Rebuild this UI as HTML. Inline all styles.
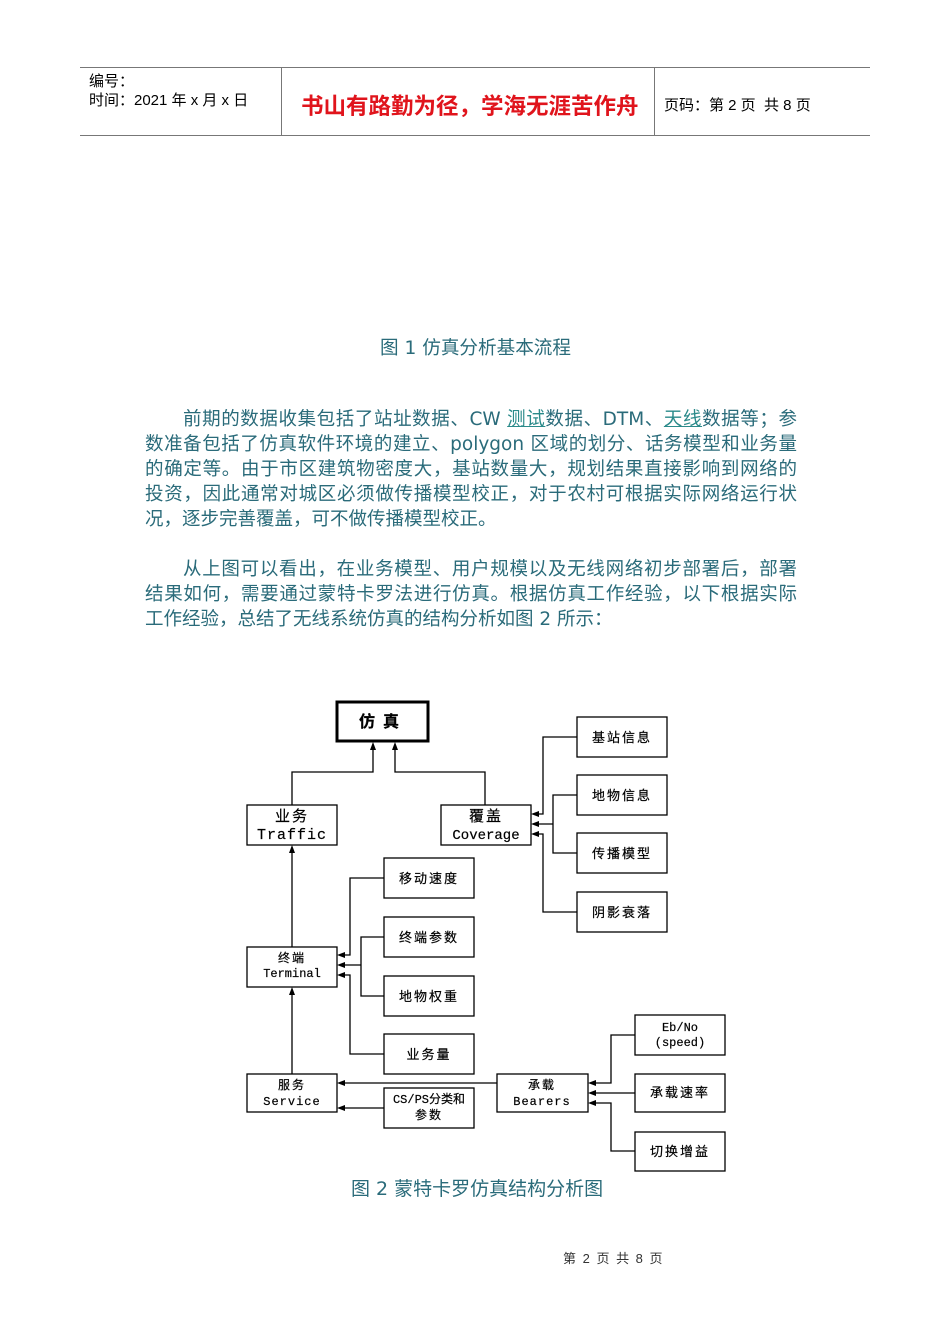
<!DOCTYPE html>
<html><head><meta charset="utf-8">
<style>
html,body{margin:0;padding:0;background:#fff;}
body{width:950px;height:1344px;position:relative;overflow:hidden;font-family:"DejaVu Sans","Noto Sans CJK SC",sans-serif;}
.a{position:absolute;white-space:nowrap;}
.p{position:absolute;left:145px;width:652px;font-size:18.5px;color:#2a6b7a;line-height:25px;text-align:justify;text-align-last:justify;white-space:nowrap;font-family:"DejaVu Sans","Noto Sans CJK SC",sans-serif;}
.u{text-decoration:underline;color:#2a8a8a;}
svg text{font-family:"Liberation Mono","Noto Sans CJK SC",monospace;}
</style></head><body>
<!-- header -->
<div class="a" style="left:80px;top:67px;width:790px;height:1px;background:#777"></div>
<div class="a" style="left:80px;top:135px;width:790px;height:1px;background:#777"></div>
<div class="a" style="left:281px;top:68px;width:1px;height:67px;background:#777"></div>
<div class="a" style="left:654px;top:68px;width:1px;height:67px;background:#777"></div>
<div class="a" style="left:89px;top:70px;font-size:15px;font-family:'Liberation Sans','Noto Sans CJK SC',sans-serif;">编号：</div>
<div class="a" style="left:89px;top:89px;font-size:15px;font-family:'Liberation Sans','Noto Sans CJK SC',sans-serif;">时间：2021 年 x 月 x 日</div>
<div class="a" style="left:301px;top:89px;font-size:22.5px;font-weight:bold;color:#e0141c;font-family:'Liberation Sans','Noto Sans CJK SC',sans-serif;">书山有路勤为径，学海无涯苦作舟</div>
<div class="a" style="left:664px;top:94px;font-size:15px;font-family:'Liberation Sans','Noto Sans CJK SC',sans-serif;">页码：第 2 页&nbsp; 共 8 页</div>

<div class="a" style="left:380px;top:333px;font-size:18.6px;color:#2a6b7a;">图 1 仿真分析基本流程</div>

<div class="p" style="top:407px;left:183px;width:614px;">前期的数据收集包括了站址数据、CW <span class="u">测试</span>数据、DTM、<span class="u">天线</span>数据等；参</div>
<div class="p" style="top:432px;">数准备包括了仿真软件环境的建立、polygon 区域的划分、话务模型和业务量</div>
<div class="p" style="top:457px;">的确定等。由于市区建筑物密度大，基站数量大，规划结果直接影响到网络的</div>
<div class="p" style="top:482px;">投资，因此通常对城区必须做传播模型校正，对于农村可根据实际网络运行状</div>
<div class="p" style="top:507px;text-align-last:left;width:auto;">况，逐步完善覆盖，可不做传播模型校正。</div>
<div class="p" style="top:557px;left:183px;width:614px;">从上图可以看出，在业务模型、用户规模以及无线网络初步部署后，部署</div>
<div class="p" style="top:582px;">结果如何，需要通过蒙特卡罗法进行仿真。根据仿真工作经验，以下根据实际</div>
<div class="p" style="top:607px;text-align-last:left;width:auto;">工作经验，总结了无线系统仿真的结构分析如图 2 所示：</div>

<svg class="a" style="left:0;top:0" width="950" height="1344">
<g fill="none" stroke="#000" stroke-width="1.3">
<rect x="337" y="702" width="91" height="39" stroke-width="3"/>
<rect x="247" y="805" width="90" height="40"/>
<rect x="441" y="805" width="90" height="40"/>
<rect x="577" y="717" width="90" height="40"/>
<rect x="577" y="775" width="90" height="40"/>
<rect x="577" y="833" width="90" height="40"/>
<rect x="577" y="892" width="90" height="40"/>
<rect x="247" y="947" width="90" height="40"/>
<rect x="384" y="858" width="90" height="40"/>
<rect x="384" y="917" width="90" height="40"/>
<rect x="384" y="976" width="90" height="40"/>
<rect x="384" y="1034" width="90" height="40"/>
<rect x="247" y="1074" width="90" height="38"/>
<rect x="384" y="1088" width="90" height="40"/>
<rect x="497" y="1074" width="91" height="38"/>
<rect x="635" y="1015" width="90" height="40"/>
<rect x="635" y="1074" width="90" height="38"/>
<rect x="635" y="1132" width="90" height="39"/>
<polyline points="292,805 292,772 373,772 373,746"/>
<polyline points="485,805 485,772 395,772 395,746"/>
<polyline points="577,737 543,737 543,814 535,814"/>
<polyline points="577,912 543,912 543,834 535,834"/>
<polyline points="577,795 553,795 553,853 577,853"/>
<line x1="553" y1="824" x2="535" y2="824"/>
<line x1="292" y1="947" x2="292" y2="849"/>
<polyline points="384,878 350,878 350,955 341,955"/>
<polyline points="384,1054 350,1054 350,975 341,975"/>
<polyline points="384,937 361,937 361,996 384,996"/>
<line x1="361" y1="965" x2="341" y2="965"/>
<line x1="292" y1="1074" x2="292" y2="991"/>
<line x1="497" y1="1083" x2="341" y2="1083"/>
<line x1="384" y1="1108" x2="341" y2="1108"/>
<polyline points="635,1035 611,1035 611,1083 592,1083"/>
<polyline points="635,1151 611,1151 611,1103 592,1103"/>
<line x1="635" y1="1093" x2="592" y2="1093"/>
</g>
<g fill="#000">
<path d="M373,742 l-3,8 h6z"/><path d="M395,742 l-3,8 h6z"/>
<path d="M292,845 l-3,8 h6z"/><path d="M292,987 l-3,8 h6z"/>
<path d="M531,814 l8,-3 v6z"/><path d="M531,824 l8,-3 v6z"/><path d="M531,834 l8,-3 v6z"/>
<path d="M337,955 l8,-3 v6z"/><path d="M337,965 l8,-3 v6z"/><path d="M337,975 l8,-3 v6z"/>
<path d="M337,1083 l8,-3 v6z"/><path d="M337,1108 l8,-3 v6z"/>
<path d="M588,1083 l8,-3 v6z"/><path d="M588,1093 l8,-3 v6z"/><path d="M588,1103 l8,-3 v6z"/>
</g>
<g font-size="13" text-anchor="middle" fill="#000" stroke="#000" stroke-width="0.2">
<text x="383" y="727" font-size="16" font-weight="bold" letter-spacing="8">仿真</text>
<text x="292" y="821" font-size="15" letter-spacing="2">业务</text>
<text x="292" y="839" font-size="15" letter-spacing="1">Traffic</text>
<text x="486" y="821" font-size="15" letter-spacing="2">覆盖</text>
<text x="486" y="839" font-size="14">Coverage</text>
<text x="622" y="742" letter-spacing="2">基站信息</text>
<text x="622" y="800" letter-spacing="2">地物信息</text>
<text x="622" y="858" letter-spacing="2">传播模型</text>
<text x="622" y="917" letter-spacing="2">阴影衰落</text>
<text x="292" y="962" font-size="12" letter-spacing="2">终端</text>
<text x="292" y="977" font-size="12">Terminal</text>
<text x="429" y="883" letter-spacing="2">移动速度</text>
<text x="429" y="942" letter-spacing="2">终端参数</text>
<text x="429" y="1001" letter-spacing="2">地物权重</text>
<text x="429" y="1059" letter-spacing="2">业务量</text>
<text x="292" y="1089" font-size="12" letter-spacing="2">服务</text>
<text x="292" y="1105" font-size="12" letter-spacing="1">Service</text>
<text x="429" y="1103" font-size="12">CS/PS分类和</text>
<text x="429" y="1119" font-size="12" letter-spacing="2">参数</text>
<text x="542" y="1089" font-size="12" letter-spacing="2">承载</text>
<text x="542" y="1105" font-size="12" letter-spacing="1">Bearers</text>
<text x="680" y="1031" font-size="12">Eb/No</text>
<text x="680" y="1046" font-size="12">(speed)</text>
<text x="680" y="1097" letter-spacing="2">承载速率</text>
<text x="680" y="1156" letter-spacing="2">切换增益</text>
</g>
</svg>

<div class="a" style="left:351px;top:1174px;font-size:19px;color:#2a6b7a;">图 2 蒙特卡罗仿真结构分析图</div>
<div class="a" style="left:563px;top:1248px;font-size:13px;color:#333;font-family:'Liberation Sans','Noto Sans CJK SC',sans-serif;word-spacing:3px;">第 2 页 共 8 页</div>
</body></html>
